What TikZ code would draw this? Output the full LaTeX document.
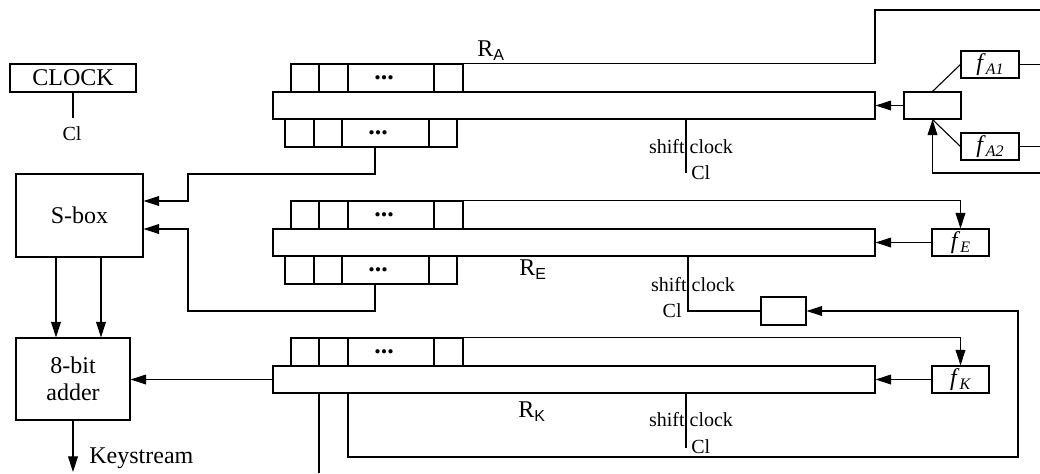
\documentclass[tikz,border=0pt]{standalone}
\usepackage{fontspec}
\setmainfont{Liberation Serif}
\setsansfont{Liberation Sans}
\usetikzlibrary{arrows.meta}
\newcommand\lowsub[1]{\raisebox{-2pt}{\fontsize{8}{8}\selectfont #1}}
\begin{document}
\begin{tikzpicture}[x=0.5pt,y=-0.5pt,
  every node/.style={font=\fontsize{12}{13.5}\selectfont},
  blk/.style 2 args={draw, line width=0.55pt, inner sep=0pt,
    minimum width=#1*0.5pt, minimum height=#2*0.5pt},
  wire/.style={line width=0.55pt},
  arr/.style={wire, -{Triangle[length=7.8pt,width=4.9pt]}},
  lbl/.style={inner sep=0pt},
  dotmark/.style={inner sep=0pt, font=\fontsize{13}{13}\bfseries},
  clk/.style={inner sep=0pt, font=\fontsize{10}{12}\selectfont}]

\useasboundingbox (0,0) rectangle (1040,473);
\coordinate (rim) at (1040,0);

% clock source
\node[blk={126}{28}] (clock) at (73,78) {CLOCK};
\coordinate (clkEnd) at (73,118);
\draw[wire] (clock.south) -- (clkEnd);
\node[clk] (clkOut) at (72,134) {Cl};

% S-box and adder
\node[blk={127}{83}] (sbox) at (79.5,215.5) {S-box};
\node[blk={114}{82}, align=center] (adder) at (73,379) {8-bit\\adder};

% shift registers: upper tap cells and main body
\foreach \rg/\t in {A/64,E/201,K/338}{
  \pgfmathsetmacro\cy{\t+14}
  \pgfmathsetmacro\my{\t+41.5}
  \node[blk={28}{28}] (c1\rg) at (305,\cy) {};
  \node[blk={29}{28}] (c2\rg) at (333.5,\cy) {};
  \node[blk={86}{28}] (c3\rg) at (391,\cy) {};
  \node[dotmark] (d3\rg) at (384,\cy) {...};
  \node[blk={29}{28}] (c4\rg) at (448.5,\cy) {};
  \node[blk={602}{27}] (main\rg) at (574,\my) {};
}
% lower tap cells
\foreach \rg/\t in {A/119,E/256}{
  \pgfmathsetmacro\cy{\t+14}
  \node[blk={29}{28}] (l1\rg) at (299.5,\cy) {};
  \node[blk={28}{28}] (l2\rg) at (328,\cy) {};
  \node[blk={87}{28}] (l3\rg) at (385.5,\cy) {};
  \node[dotmark] (e3\rg) at (378,\cy) {...};
  \node[blk={28}{28}] (l4\rg) at (443,\cy) {};
}

% register names
\node[lbl, anchor=base west] (labA) at (477,56) {R\lowsub{\sffamily A}};
\node[lbl, anchor=base west] (labE) at (519,275) {R\lowsub{\sffamily E}};
\node[lbl, anchor=base west] (labK) at (518,417) {R\lowsub{\sffamily K}};

% feedback of R_A
\node[blk={57}{27}] (mux) at (932.5,105.5) {};
\node[blk={58}{27}] (fa1) at (990,64.5) {\textit{f}\lowsub{\textit{A1}}};
\node[blk={58}{27}] (fa2) at (990,146.5) {\textit{f}\lowsub{\textit{A2}}};
\draw[wire] (mux.north) -- (fa1.west);
\draw[wire] (mux.south) -- (fa2.west);
\draw[arr] (mux.west) -- (mainA.east);
\draw[wire] (fa1.east) -- (fa1.east -| rim);
\draw[wire] (fa2.east) -- (fa2.east -| rim);
\coordinate (fbA) at (1040,173);
\draw[arr] (fbA) -- (fbA -| mux.south) -- (mux.south);
\coordinate (tapTopA) at (875,10);
\draw[wire] (c4A.north east) -- (c4A.north east -| tapTopA) -- (tapTopA) -- (tapTopA -| rim);

% feedback of R_E
\node[blk={57}{27}] (fe) at (960.5,242.5) {\textit{f}\lowsub{\textit{E}}};
\draw[arr] (fe.west) -- (mainE.east);
\draw[arr] (c4E.north east) -- (c4E.north east -| fe.north) -- (fe.north);

% feedback of R_K
\node[blk={57}{27}] (fk) at (960.5,379.5) {\textit{f}\lowsub{\textit{K}}};
\draw[arr] (fk.west) -- (mainK.east);
\draw[arr] (c4K.north east) -- (c4K.north east -| fk.north) -- (fk.north);

% shift clocks
\coordinate (scA) at (686,173);
\draw[wire] (mainA.south -| scA) -- (scA);
\node[clk] (shA) at (691,147) {shift clock};
\node[clk, anchor=west] (clA) at (691,173) {Cl};

\node[blk={45}{28}] (gate) at (783.5,311) {};
\coordinate (scE) at (688,311);
\draw[wire] (mainE.south -| scE) -- (scE) -- (gate.west);
\node[clk] (shE) at (693,285) {shift clock};
\node[clk, anchor=east] (clE) at (682,311) {Cl};

\coordinate (scK) at (686,448);
\draw[wire] (mainK.south -| scK) -- (scK);
\node[clk] (shK) at (691,420) {shift clock};
\node[clk, anchor=west] (clK) at (691,447) {Cl};

% loop from R_K back to the gate
\coordinate (lpL) at (348,457);
\coordinate (lpR) at (1018,457);
\draw[arr] (mainK.south -| lpL) -- (lpL) -- (lpR) -- (lpR |- gate.east) -- (gate.east);
\coordinate (kOut) at (319,473);
\draw[wire] (mainK.south -| kOut) -- (kOut);

% taps into the S-box
\coordinate (tapA) at (375,174);
\coordinate (inA) at (188,201);
\draw[arr] (l3A.south -| tapA) -- (tapA) -- (tapA -| inA) -- (inA) -- (inA -| sbox.east);
\coordinate (tapE) at (375,311);
\coordinate (inE) at (188,229);
\draw[arr] (l3E.south -| tapE) -- (tapE) -- (tapE -| inE) -- (inE) -- (inE -| sbox.east);

% S-box to adder
\coordinate (dA) at (56,0);
\coordinate (dB) at (101,0);
\draw[arr] (sbox.south -| dA) -- (adder.north -| dA);
\draw[arr] (sbox.south -| dB) -- (adder.north -| dB);

% adder input and output
\draw[arr] (mainK.west) -- (mainK.west -| adder.east);
\coordinate (ks) at (73,472);
\draw[arr] (adder.south) -- (ks);
\node[lbl, anchor=base west] (ksl) at (89,463) {Keystream};
\end{tikzpicture}
\end{document}
